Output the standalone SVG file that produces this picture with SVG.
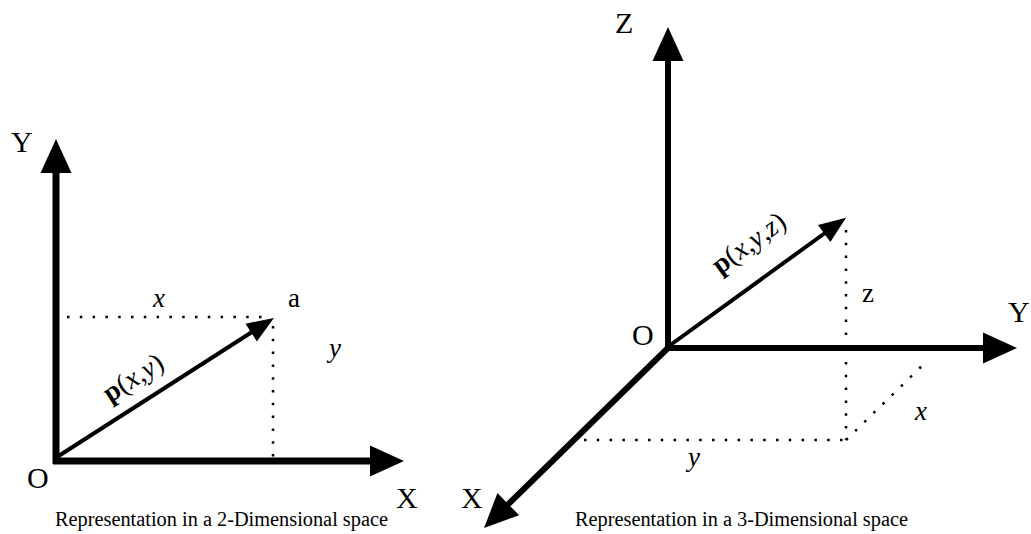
<svg xmlns="http://www.w3.org/2000/svg" width="1031" height="534" viewBox="0 0 1031 534">
<style>
.bg{fill:#fff}
.axis{stroke:#000;stroke-width:7;fill:none}
.axis3{stroke:#000;stroke-width:6;fill:none}
.vec{stroke:#000;stroke-width:4;fill:none}
.dot{stroke:#000;stroke-width:2.5;fill:none;stroke-dasharray:2.5 10.3}
.cap{font-family:"Liberation Serif","Times New Roman","DejaVu Serif",serif;font-size:30px;fill:#000}
.lab{font-family:"Liberation Serif","Times New Roman","DejaVu Serif",serif;font-size:27px;fill:#000;font-style:italic}
.up{font-family:"Liberation Serif","Times New Roman","DejaVu Serif",serif;font-size:27px;fill:#000}
.pv{font-family:"Liberation Serif","Times New Roman","DejaVu Serif",serif;font-size:28px;fill:#000}
.pv .b{font-weight:bold;font-style:normal}
.pv .i{font-style:italic}
.caption{font-family:"Liberation Serif","Times New Roman","DejaVu Serif",serif;font-size:20px;fill:#000}
</style>
<defs>
<marker id="ah" markerUnits="userSpaceOnUse" markerWidth="40" markerHeight="40" refX="1" refY="0" viewBox="0 -20 40 40" orient="auto" overflow="visible">
<path d="M0,-15.5 L34,0 L0,15.5 Z" fill="#000"/>
</marker>
<marker id="vh" markerUnits="userSpaceOnUse" markerWidth="30" markerHeight="30" refX="1" refY="0" viewBox="0 -15 30 30" orient="auto" overflow="visible">
<path d="M0,-10.5 L27,0 L0,10.5 Z" fill="#000"/>
</marker>
</defs>
<rect class="bg" x="0" y="0" width="1031" height="534"/>

<g id="connectors">
<!-- 2D -->
<line id="axis2-y" class="axis" x1="56" y1="464" x2="56" y2="172" marker-end="url(#ah)"/>
<line id="axis2-x" class="axis" x1="53" y1="461" x2="371" y2="461" marker-end="url(#ah)"/>
<line id="vec2" class="vec" x1="57" y1="457" x2="252" y2="332" marker-end="url(#vh)"/>
<line class="dot" x1="67" y1="317" x2="262" y2="317"/>
<line class="dot" x1="273" y1="326" x2="273" y2="458"/>
<!-- 3D -->
<line id="axis3-z" class="axis3" x1="668" y1="351" x2="668" y2="60" marker-end="url(#ah)"/>
<line id="axis3-y" class="axis3" x1="665" y1="348" x2="984" y2="348" marker-end="url(#ah)"/>
<line id="axis3-x" class="axis3" x1="670" y1="346" x2="507.6" y2="504.9" marker-end="url(#ah)"/>
<line id="vec3" class="vec" x1="669" y1="346" x2="825" y2="233" marker-end="url(#vh)"/>
<line class="dot" x1="846" y1="230" x2="846" y2="340"/>
<line class="dot" x1="846" y1="362" x2="846" y2="440"/>
<line class="dot" x1="584" y1="440" x2="846" y2="440"/>
<line class="dot" x1="846" y1="440" x2="928" y2="360"/>
</g>

<g id="node-2d-labels">
<text class="cap" x="11" y="152">Y</text>
<text class="cap" x="27" y="488">O</text>
<text class="cap" x="396" y="508">X</text>
<text class="lab" x="153" y="307">x</text>
<text class="up" x="288" y="307">a</text>
<text class="lab" x="329" y="357">y</text>
<text class="pv" transform="translate(110 403) rotate(-32.5)"><tspan class="b">p</tspan>(<tspan class="i">x</tspan>,<tspan class="i">y</tspan>)</text>
</g>

<g id="node-3d-labels">
<text class="cap" x="615" y="33">Z</text>
<text class="cap" x="632" y="345">O</text>
<text class="cap" x="1008" y="322">Y</text>
<text class="cap" x="461" y="508">X</text>
<text class="up" x="862" y="302">z</text>
<text class="lab" x="915" y="420">x</text>
<text class="lab" x="688" y="466">y</text>
<text class="pv" transform="translate(720 275) rotate(-36)"><tspan class="b">p</tspan>(<tspan class="i">x</tspan>,<tspan class="i">y</tspan>,<tspan class="i">z</tspan>)</text>
</g>

<g id="node-captions">
<text class="caption" x="55" y="526" textLength="333" lengthAdjust="spacingAndGlyphs">Representation in a 2-Dimensional space</text>
<text class="caption" x="575" y="526" textLength="333" lengthAdjust="spacingAndGlyphs">Representation in a 3-Dimensional space</text>
</g>
</svg>
